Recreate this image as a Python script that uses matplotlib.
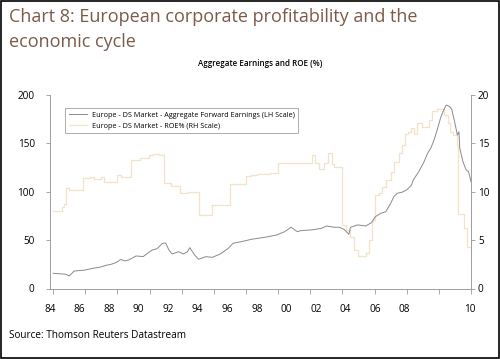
import numpy as np
import matplotlib
matplotlib.use("Agg")
import matplotlib.pyplot as plt
from matplotlib.patches import Rectangle

plt.rcParams['font.family'] = ['Open Sans', 'DejaVu Sans']

# Aggregate forward earnings (LH scale)
earn_years = [1984.0, 1984.4, 1984.8, 1985.0, 1985.3, 1985.6, 1985.95, 1986.5, 1986.9,
              1987.3, 1987.6, 1987.9, 1988.2, 1988.45, 1988.7, 1989.15, 1989.6, 1990.0,
              1990.2, 1990.45, 1990.8, 1991.0, 1991.2, 1991.4, 1991.8, 1992.1, 1992.35,
              1992.5, 1992.8, 1993.05, 1993.5, 1993.9, 1994.4, 1994.9, 1995.2, 1995.7,
              1996.35, 1997.2, 1997.9, 1998.4, 1998.8, 1999.2, 1999.4, 2000.05, 2000.7,
              2001.0, 2001.5, 2001.8, 2002.1, 2002.4, 2002.5, 2002.95, 2003.45, 2003.8,
              2004.05, 2004.4, 2004.7, 2005.0, 2005.2, 2005.4, 2005.7, 2006.0, 2006.3,
              2006.4, 2006.75, 2007.05, 2007.3, 2007.5, 2007.7, 2007.9, 2008.1, 2008.3,
              2008.46, 2008.67, 2008.8, 2009.0, 2009.15, 2009.25, 2009.3, 2009.5, 2009.7,
              2009.85, 2010.0]
earn_values = [15.7, 15.2, 14.7, 12.9, 18.0, 18.5, 19.0, 21.0, 22.0,
               24.0, 25.0, 26.7, 30.0, 28.5, 29.5, 33.6, 33.0, 38.0,
               40.0, 41.0, 46.7, 47.0, 39.8, 35.7, 38.0, 35.7, 38.0,
               42.2, 34.6, 30.2, 32.9, 32.2, 35.7, 41.6, 46.8, 48.4,
               50.9, 53.0, 55.3, 58.7, 63.3, 58.7, 59.8, 60.5, 62.2,
               64.6, 63.3, 63.3, 61.2, 56.0, 63.3, 65.7, 64.6, 68.0,
               74.3, 77.8, 79.4, 88.0, 95.0, 98.4, 99.5, 101.9, 107.0,
               112.0, 120.8, 130.0, 139.8, 145.0, 153.6, 164.0, 176.0, 184.6,
               189.7, 188.0, 185.3, 170.8, 158.7, 162.0, 145.0, 131.0, 122.5,
               120.8, 110.4]

# ROE % (RH scale), step series
roe_years = [1984.0, 1984.55, 1984.7, 1984.8, 1985.0, 1985.85, 1986.3, 1986.55, 1987.0,
             1987.15, 1987.95, 1988.2, 1988.85, 1989.4, 1989.95, 1990.2, 1990.6, 1990.9,
             1991.3, 1991.9, 1992.4, 1993.05, 1993.9, 1995.0, 1996.0, 1996.3, 1996.7,
             1997.5, 1998.0, 1998.6, 2000.1, 2000.3, 2000.55, 2000.86, 2001.09, 2001.34,
             2001.5, 2002.0, 2002.2, 2002.5, 2002.7, 2002.95, 2003.45, 2003.65, 2003.85,
             2004.05, 2004.3, 2004.45, 2004.7, 2005.0, 2005.2, 2005.5, 2005.7, 2005.9,
             2006.1, 2006.25, 2006.45, 2006.65, 2006.95, 2007.4, 2007.6, 2007.9, 2008.3,
             2008.55, 2008.7, 2008.9, 2009.1, 2009.18, 2009.55, 2009.72, 2010.0]
roe_values = [8.04, 8.46, 8.73, 10.36, 10.2, 11.39, 11.5, 11.28, 11.56,
              11.04, 11.73, 11.5, 13.28, 13.5, 13.8, 13.95, 13.75, 10.87,
              10.6, 9.84, 10.0, 7.6, 8.63, 10.8, 11.6, 11.7, 11.8,
              11.9, 12.94, 13.0, 13.8, 13.0, 12.3, 13.0, 13.97, 12.87,
              12.6, 6.6, 6.05, 5.35, 4.0, 3.35, 3.64, 5.0, 7.1,
              9.66, 9.84, 10.5, 11.2, 12.07, 13.1, 13.97, 14.83, 16.0,
              16.2, 16.56, 16.0, 17.07, 16.7, 17.4, 18.38, 18.6, 17.9,
              17.07, 16.2, 15.87, 14.83, 7.7, 6.3, 4.32, 4.32]

tick_years = np.arange(1984, 2011, 2)
tick_labels = ['84', '86', '88', '90', '92', '94', '96', '98', '00', '02', '04', '06', '08', '10']
# labels in the source are spaced a bit tighter than the ticks
label_pos = list(np.linspace(1983.8, 2005.86, 13)) + [2009.94]

earn_color = '#8a8a8a'
roe_color = '#f3e1c9'
title_color = '#7b5a49'

fig = plt.figure(figsize=(5.0, 3.59), dpi=100)
ax = fig.add_axes([50 / 500, 1 - 288.5 / 359, 421 / 500, 193.5 / 359])
ax2 = ax.twinx()

ax2.step(roe_years, roe_values, where='post', color=roe_color, lw=0.9,
         label='Europe - DS Market - ROE% (RH Scale)')
ax.plot(earn_years, earn_values, color=earn_color, lw=0.7,
        label='Europe - DS Market - Aggregate Forward Earnings (LH Scale)')
ax.set_zorder(ax2.get_zorder() + 1)
ax.patch.set_visible(False)

ax.set_xlim(1984, 2010)
ax.set_ylim(0, 200)
ax2.set_ylim(0, 20)
ax.set_yticks([0, 50, 100, 150, 200])
ax2.set_yticks([0, 5, 10, 15, 20])

ax.set_xticks(label_pos)
ax.set_xticklabels(tick_labels)
ax.set_xticks(tick_years, minor=True)
ax.tick_params(axis='x', which='major', length=0, pad=11, labelsize=7.2)
ax.tick_params(axis='x', which='minor', length=3.5, color='#999999', width=0.6)
ax.tick_params(axis='y', length=3, color='#999999', width=0.6, pad=8, labelsize=7.2)
ax2.tick_params(axis='y', length=3, color='#999999', width=0.6, pad=2, labelsize=7.2)

for a in (ax, ax2):
    a.spines['top'].set_visible(False)
    for s in ('left', 'right', 'bottom'):
        a.spines[s].set_color('#a0a0a0')
        a.spines[s].set_linewidth(0.7)

h1, l1 = ax.get_legend_handles_labels()
h2, l2 = ax2.get_legend_handles_labels()
leg = ax.legend(h1 + h2, l1 + l2, loc='upper left', bbox_to_anchor=(15 / 421, 0.933),
                borderaxespad=0, fontsize=5.2, frameon=True, fancybox=False,
                edgecolor='#888888', handlelength=2.6, handletextpad=0.6,
                labelspacing=0.55, borderpad=0.5)
leg.get_frame().set_linewidth(0.6)

fig.text(9 / 500, 1 - 22 / 359, 'Chart 8: European corporate profitability and the',
         fontsize=13, color=title_color, va='baseline')
fig.text(9 / 500, 1 - 47 / 359, 'economic cycle',
         fontsize=13, color=title_color, va='baseline')
fig.text(260 / 500, 1 - 63 / 359, 'Aggregate Earnings and ROE (%)',
         fontsize=5.8, ha='center', va='center', weight='semibold')
fig.text(9 / 500, 1 - 336 / 359, 'Source: Thomson Reuters Datastream',
         fontsize=7.2, va='center')

fig.patches.append(Rectangle((0.002, 0.003), 0.996, 0.994, transform=fig.transFigure,
                             fill=False, edgecolor='black', lw=1.2))

fig.savefig('out.png', dpi=100)
